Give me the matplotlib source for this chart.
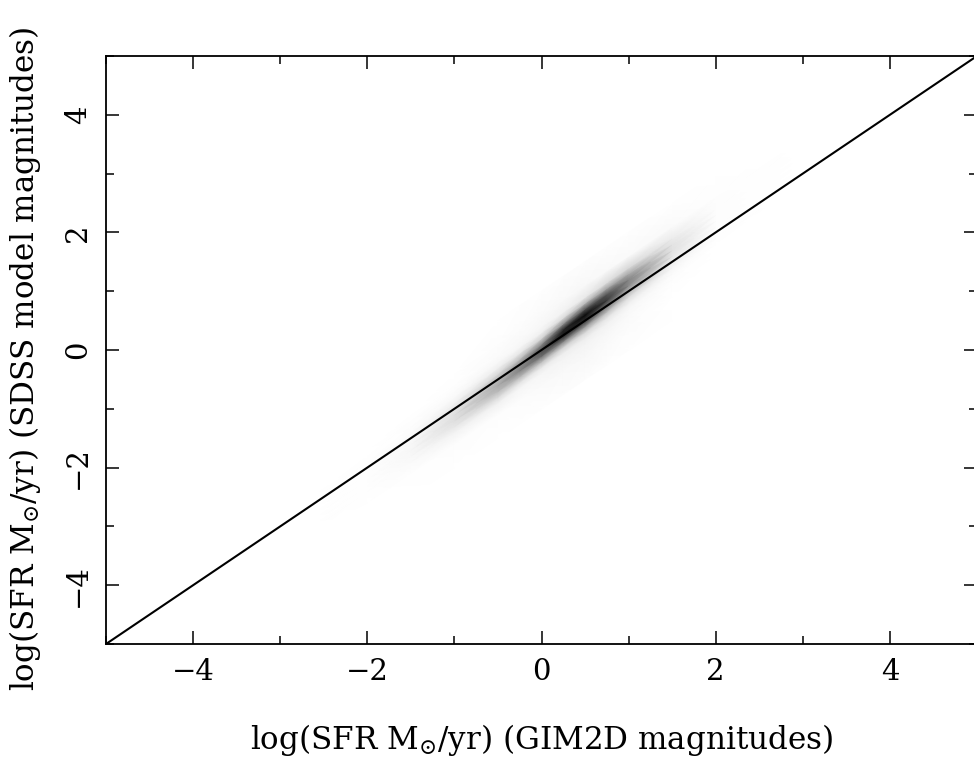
import numpy as np
import matplotlib
matplotlib.use("Agg")
import matplotlib.pyplot as plt

# ---- data: density of galaxies ----
# columns: position along x (GIM2D), rows: offset v = y - x
ridge_x = [-3.0, -2.0, -1.5, -1.0, -0.5, -0.25, 0.0, 0.25, 0.5, 0.75, 1.0, 1.5, 2.0, 3.0]
offset_v = [-1.0, -0.6, -0.4, -0.3, -0.2, -0.1, 0.0, 0.1, 0.2, 0.3, 0.4, 0.6, 1.0]
density = np.array([
    # x=-3  -2     -1.5   -1     -0.5   -0.25  0      0.25   0.5    0.75   1.0    1.5    2.0    3.0
    [0.000, 0.000, 0.000, 0.001, 0.003, 0.004, 0.006, 0.008, 0.008, 0.007, 0.004, 0.001, 0.000, 0.000],  # v=-1.0
    [0.000, 0.002, 0.005, 0.008, 0.009, 0.013, 0.018, 0.024, 0.025, 0.020, 0.013, 0.003, 0.000, 0.000],  # v=-0.6
    [0.000, 0.004, 0.018, 0.045, 0.052, 0.035, 0.034, 0.041, 0.041, 0.034, 0.021, 0.006, 0.001, 0.000],  # v=-0.4
    [0.000, 0.005, 0.026, 0.085, 0.132, 0.101, 0.076, 0.062, 0.060, 0.046, 0.026, 0.009, 0.002, 0.000],  # v=-0.3
    [0.000, 0.006, 0.030, 0.115, 0.244, 0.264, 0.237, 0.164, 0.138, 0.093, 0.053, 0.017, 0.003, 0.000],  # v=-0.2
    [0.000, 0.006, 0.028, 0.115, 0.300, 0.430, 0.522, 0.461, 0.373, 0.236, 0.123, 0.034, 0.005, 0.000],  # v=-0.1
    [0.000, 0.005, 0.022, 0.086, 0.244, 0.407, 0.632, 0.813, 0.737, 0.496, 0.266, 0.060, 0.007, 0.000],  # v= 0.0
    [0.000, 0.004, 0.014, 0.050, 0.135, 0.226, 0.406, 0.762, 0.867, 0.690, 0.417, 0.089, 0.009, 0.000],  # v= 0.1
    [0.000, 0.002, 0.008, 0.024, 0.058, 0.086, 0.152, 0.386, 0.592, 0.596, 0.434, 0.104, 0.010, 0.000],  # v= 0.2
    [0.000, 0.001, 0.004, 0.011, 0.025, 0.034, 0.053, 0.124, 0.246, 0.322, 0.298, 0.096, 0.010, 0.000],  # v= 0.3
    [0.000, 0.001, 0.002, 0.006, 0.015, 0.022, 0.031, 0.049, 0.080, 0.121, 0.138, 0.070, 0.009, 0.000],  # v= 0.4
    [0.000, 0.000, 0.001, 0.003, 0.008, 0.013, 0.018, 0.024, 0.025, 0.022, 0.019, 0.018, 0.004, 0.000],  # v= 0.6
    [0.000, 0.000, 0.000, 0.001, 0.003, 0.004, 0.006, 0.008, 0.008, 0.007, 0.004, 0.001, 0.000, 0.000],  # v= 1.0
])
line_x = [-5, 5]
line_y = [-5, 5]
xticks_major = [-4, -2, 0, 2, 4]
yticks_major = [-4, -2, 0, 2, 4]

plt.rcParams['font.family'] = ['DejaVu Serif']
plt.rcParams['mathtext.fontset'] = 'dejavuserif'

fig = plt.figure(figsize=(9.74, 7.6), dpi=100)
ax = fig.add_axes([106 / 974, (760 - 644) / 760, 871 / 974, 588 / 760])

X = np.array(ridge_x)[None, :] * np.ones((len(offset_v), 1))
Y = X + np.array(offset_v)[:, None]
ax.pcolormesh(X, Y, density, shading='gouraud', cmap='gray_r', vmin=0, vmax=0.9,
              rasterized=True)
ax.plot(line_x, line_y, color='black', lw=1.5)

ax.set_xlim(-5, 5)
ax.set_ylim(-5, 5)
ax.set_xticks(xticks_major)
ax.set_yticks(yticks_major)
ax.set_xticks(np.arange(-5, 6, 1), minor=True)
ax.set_yticks(np.arange(-5, 6, 1), minor=True)
ax.tick_params(which='both', direction='in', top=True, right=True, width=1.1, color='black')
ax.tick_params(which='major', length=9.5, labelsize=21, pad=10)
ax.tick_params(which='minor', length=5.5)
for lab in ax.get_yticklabels():
    lab.set_rotation(90)
    lab.set_va('center')
for s in ax.spines.values():
    s.set_linewidth(1.3)

ax.set_xlabel(r'log(SFR M$_{\odot}$/yr) (GIM2D magnitudes)', fontsize=22.3, labelpad=26)
ax.set_ylabel(r'log(SFR M$_{\odot}$/yr) (SDSS model magnitudes)', fontsize=22.3, labelpad=15)
ax.yaxis.label.set_y(0.485)

fig.savefig('out.png', dpi=100)
